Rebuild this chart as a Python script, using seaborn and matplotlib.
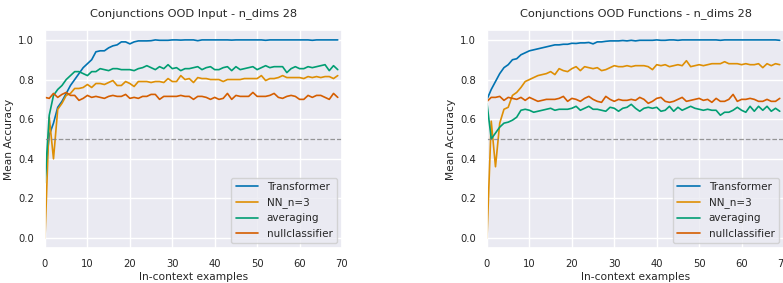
import numpy as np
import pandas as pd
import matplotlib
matplotlib.use("Agg")
import matplotlib.pyplot as plt
import seaborn as sns

n_examples = list(range(70))
models = ["Transformer", "NN_n=3", "averaging", "nullclassifier"]

# OOD Input panel
input_transformer = [
    0.30, 0.52, 0.58, 0.66, 0.69, 0.73, 0.77, 0.80, 0.83, 0.86,
    0.88, 0.90, 0.94, 0.945, 0.945, 0.96, 0.97, 0.975, 0.99, 0.99,
    0.98, 0.99, 0.995, 0.995, 0.995, 0.996, 1.0, 0.998, 0.998, 0.998,
    1.0, 1.0, 0.999, 1.0, 1.0, 1.0, 0.996, 1.0, 1.0, 1.0,
    1.0, 1.0, 1.0, 1.0, 0.999, 1.0, 1.0, 1.0, 1.0, 1.0,
    1.0, 1.0, 0.998, 1.0, 1.0, 1.0, 1.0, 1.0, 1.0, 1.0,
    1.0, 1.0, 1.0, 0.998, 1.0, 1.0, 1.0, 1.0, 1.0, 1.0,
]
input_nn3 = [
    0.0, 0.61, 0.40, 0.65, 0.68, 0.72, 0.73, 0.755, 0.755, 0.76,
    0.775, 0.76, 0.78, 0.78, 0.775, 0.785, 0.795, 0.77, 0.77, 0.79,
    0.78, 0.765, 0.79, 0.79, 0.79, 0.785, 0.79, 0.79, 0.785, 0.805,
    0.79, 0.79, 0.82, 0.80, 0.805, 0.785, 0.81, 0.805, 0.805, 0.80,
    0.80, 0.80, 0.79, 0.80, 0.80, 0.80, 0.80, 0.805, 0.805, 0.805,
    0.805, 0.82, 0.795, 0.805, 0.805, 0.81, 0.82, 0.81, 0.81, 0.81,
    0.81, 0.805, 0.815, 0.81, 0.815, 0.81, 0.815, 0.815, 0.805, 0.82,
]
input_averaging = [
    0.28, 0.62, 0.72, 0.75, 0.77, 0.80, 0.82, 0.84, 0.84, 0.83,
    0.82, 0.84, 0.84, 0.855, 0.85, 0.845, 0.855, 0.855, 0.85, 0.85,
    0.85, 0.845, 0.855, 0.86, 0.87, 0.86, 0.85, 0.865, 0.855, 0.875,
    0.855, 0.86, 0.845, 0.855, 0.855, 0.86, 0.865, 0.85, 0.86, 0.865,
    0.85, 0.85, 0.86, 0.865, 0.845, 0.865, 0.85, 0.855, 0.86, 0.865,
    0.85, 0.86, 0.87, 0.86, 0.865, 0.865, 0.865, 0.835, 0.855, 0.865,
    0.855, 0.855, 0.865, 0.86, 0.865, 0.87, 0.875, 0.845, 0.87, 0.85,
]
input_null = [
    0.71, 0.705, 0.73, 0.71, 0.725, 0.735, 0.72, 0.72, 0.695, 0.705,
    0.72, 0.71, 0.715, 0.71, 0.705, 0.715, 0.72, 0.715, 0.715, 0.725,
    0.705, 0.71, 0.705, 0.715, 0.715, 0.725, 0.725, 0.70, 0.715, 0.715,
    0.715, 0.715, 0.72, 0.715, 0.715, 0.70, 0.715, 0.715, 0.71, 0.70,
    0.71, 0.70, 0.705, 0.73, 0.70, 0.72, 0.715, 0.715, 0.715, 0.735,
    0.715, 0.715, 0.715, 0.72, 0.73, 0.71, 0.705, 0.715, 0.72, 0.715,
    0.70, 0.70, 0.72, 0.71, 0.72, 0.72, 0.71, 0.70, 0.73, 0.71,
]

# OOD Functions panel
func_transformer = [
    0.70, 0.75, 0.79, 0.83, 0.86, 0.875, 0.90, 0.905, 0.925, 0.935,
    0.945, 0.95, 0.955, 0.96, 0.965, 0.97, 0.975, 0.975, 0.978, 0.978,
    0.983, 0.982, 0.985, 0.985, 0.987, 0.98, 0.99, 0.99, 0.993, 0.995,
    0.995, 0.995, 0.997, 0.995, 0.998, 0.995, 0.998, 0.998, 0.998, 0.998,
    1.0, 0.998, 0.998, 1.0, 1.0, 0.998, 1.0, 1.0, 1.0, 1.0,
    1.0, 1.0, 1.0, 1.0, 1.0, 0.998, 1.0, 1.0, 1.0, 1.0,
    1.0, 1.0, 1.0, 1.0, 1.0, 1.0, 1.0, 1.0, 1.0, 0.998,
]
func_nn3 = [
    0.0, 0.59, 0.36, 0.58, 0.65, 0.66, 0.72, 0.735, 0.76, 0.79,
    0.80, 0.81, 0.82, 0.825, 0.83, 0.84, 0.825, 0.855, 0.845, 0.84,
    0.855, 0.865, 0.845, 0.865, 0.86, 0.855, 0.86, 0.845, 0.85, 0.86,
    0.87, 0.865, 0.865, 0.87, 0.865, 0.87, 0.87, 0.87, 0.865, 0.85,
    0.875, 0.87, 0.875, 0.865, 0.87, 0.875, 0.87, 0.895, 0.865, 0.87,
    0.875, 0.87, 0.875, 0.88, 0.88, 0.88, 0.89, 0.88, 0.88, 0.88,
    0.875, 0.88, 0.875, 0.875, 0.88, 0.86, 0.88, 0.87, 0.88, 0.875,
]
func_averaging = [
    0.68, 0.50, 0.53, 0.56, 0.58, 0.585, 0.595, 0.61, 0.645, 0.65,
    0.645, 0.635, 0.64, 0.645, 0.65, 0.655, 0.645, 0.65, 0.65, 0.65,
    0.655, 0.665, 0.645, 0.655, 0.665, 0.65, 0.65, 0.645, 0.64, 0.66,
    0.655, 0.64, 0.655, 0.66, 0.675, 0.655, 0.64, 0.655, 0.66, 0.655,
    0.66, 0.64, 0.645, 0.665, 0.64, 0.66, 0.645, 0.655, 0.665, 0.655,
    0.65, 0.645, 0.65, 0.645, 0.645, 0.62, 0.635, 0.635, 0.645, 0.66,
    0.645, 0.635, 0.665, 0.64, 0.665, 0.645, 0.665, 0.64, 0.655, 0.64,
]
func_null = [
    0.69, 0.71, 0.71, 0.715, 0.695, 0.71, 0.705, 0.70, 0.71, 0.695,
    0.71, 0.70, 0.69, 0.695, 0.70, 0.70, 0.70, 0.705, 0.715, 0.69,
    0.705, 0.70, 0.69, 0.705, 0.715, 0.70, 0.69, 0.685, 0.715, 0.70,
    0.69, 0.70, 0.695, 0.695, 0.70, 0.695, 0.71, 0.70, 0.68, 0.69,
    0.705, 0.71, 0.69, 0.685, 0.69, 0.70, 0.71, 0.69, 0.695, 0.70,
    0.705, 0.695, 0.70, 0.685, 0.705, 0.69, 0.69, 0.70, 0.725, 0.69,
    0.70, 0.70, 0.705, 0.70, 0.69, 0.69, 0.70, 0.69, 0.69, 0.705,
]

panels = [
    ("Conjunctions OOD Input - n_dims 28",
     [input_transformer, input_nn3, input_averaging, input_null]),
    ("Conjunctions OOD Functions - n_dims 28",
     [func_transformer, func_nn3, func_averaging, func_null]),
]

sns.set_theme(style="darkgrid")
plt.rcParams['font.family'] = ['DejaVu Sans']

fig = plt.figure(figsize=(7.83, 2.83), dpi=100)
lefts = [45 / 783, 487 / 783]
palette = sns.color_palette("colorblind", 4)

for left, (title, series) in zip(lefts, panels):
    ax = fig.add_axes([left, 35 / 283, 297 / 783, 218 / 283])
    frames = []
    for name, vals in zip(models, series):
        frames.append(pd.DataFrame({"x": n_examples, "acc": vals, "model": name}))
    df = pd.concat(frames, ignore_index=True)
    sns.lineplot(data=df, x="x", y="acc", hue="model", hue_order=models,
                 palette=palette, linewidth=1.2, ax=ax)
    ax.axhline(0.5, color="gray", linestyle="--", linewidth=0.9, alpha=0.8)
    ax.set_xlim(0, 70)
    ax.set_ylim(-0.05, 1.05)
    ax.set_title(title, fontsize=8.2, pad=10)
    ax.set_xlabel("In-context examples", fontsize=7.7, labelpad=2)
    ax.set_ylabel("Mean Accuracy", fontsize=7.7, labelpad=3)
    ax.tick_params(labelsize=7.2, pad=2)
    ax.legend(loc="lower right", fontsize=7.5, handlelength=2.2)

fig.savefig("out.png", dpi=100)
